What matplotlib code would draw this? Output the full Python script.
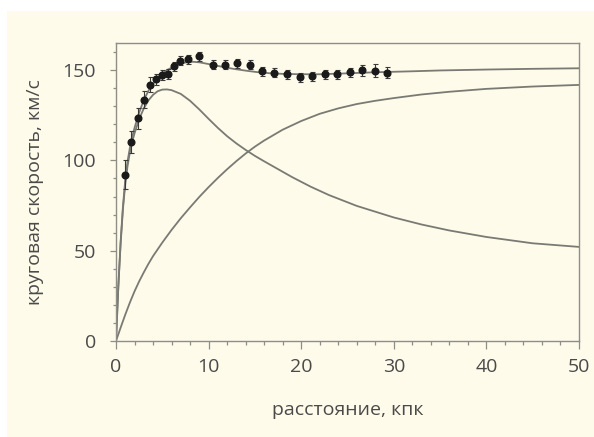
import matplotlib
matplotlib.use("Agg")
import matplotlib.pyplot as plt
from matplotlib.patches import Rectangle
from matplotlib.ticker import MultipleLocator

plt.rcParams['font.family'] = ['Open Sans', 'DejaVu Sans']

# observed rotation curve
obs_r = [0.92, 1.65, 2.36, 2.97, 3.65, 4.34, 4.98, 5.63, 6.28, 6.96, 7.74, 9.0,
         10.44, 11.74, 13.1, 14.44, 15.77, 17.06, 18.43, 19.84, 21.2, 22.54,
         23.87, 25.24, 26.6, 27.93, 29.3]
obs_v = [92.0, 110.2, 123.2, 133.7, 142.0, 145.0, 147.1, 147.9, 152.0, 155.1, 156.1, 157.7,
         152.9, 152.9, 153.8, 152.9, 149.4, 148.5, 147.6, 146.1, 146.7, 147.6,
         147.8, 148.7, 150.0, 149.6, 148.5]
obs_err = [8, 6, 6, 4.6, 4, 3, 2.8, 2.6, 2.5, 2.5, 2.5, 2.5,
           2.5, 2.5, 2.5, 2.5, 2.5, 2.5, 2.5, 2.5, 2.5, 2.5,
           2.5, 2.5, 3, 3.5, 3]

# model: total
tot_r = [0, 0.25, 0.5, 0.75, 1.0, 1.25, 1.5, 1.75, 2.0, 2.5, 3.0, 3.5, 4.0, 4.75, 5.5,
         6.5, 7.5, 8.3, 9.0, 10.15, 11.5, 12.67, 14.0, 15.2, 16.5, 18.0, 20.0,
         22.0, 25.0, 28.0, 31.75, 35.0, 40.0, 45.0, 50.0]
tot_v = [0, 30, 55, 74.5, 89, 99.5, 107, 113, 118, 126.5, 133.3, 138.5, 142.4, 146.8, 150,
         152.6, 154.2, 154.6, 154.3, 153.2, 151.8, 150.7, 149.7, 148.9, 148.3, 147.9, 147.7,
         147.7, 148.2, 148.8, 149.3, 149.8, 150.3, 150.7, 151]

# model: stellar disk
disk_r = [0, 0.25, 0.5, 0.75, 1.0, 1.25, 1.5, 1.75, 2.0, 2.5, 3.0, 3.5, 4.0, 4.5, 5.0,
          5.5, 6.0, 7.0, 8.0, 9.0, 10.0, 11.0, 12.0, 13.0, 14.0, 15.0, 16.0, 17.0,
          19.0, 21.0, 23.0, 26.0, 30.0, 33.0, 36.0, 40.0, 45.0, 50.0]
disk_v = [0, 30, 54, 73, 87, 97, 104.5, 110.3, 115, 122.8, 128.8, 133.2, 136.3, 138.3, 139.2,
          139.3, 138.9, 136.8, 133.0, 128.2, 123.0, 118.0, 113.4, 109.4, 105.8, 102.5, 99.5, 96.6,
          90.8, 85.5, 80.8, 74.8, 68.4, 64.5, 61.2, 57.6, 54.1, 52.1]

# model: dark halo
halo_r = [0, 0.5, 1, 1.5, 2, 2.5, 3, 3.5, 4, 5, 6, 7, 8, 9, 10, 11, 12, 13, 14, 15, 16,
          18, 20, 22, 24, 26, 28, 30, 33, 36, 40, 45, 50]
halo_v = [0, 7.4, 14.6, 21.3, 27.5, 33, 38, 42.7, 47, 54.5, 61.5, 68, 74, 79.8, 85.2,
          90.3, 95.1, 99.6, 103.8, 107.6, 111, 117, 121.8, 125.8, 128.8, 131.2, 133,
          134.5, 136.5, 138, 139.6, 140.9, 141.8]

xticks = [0, 10, 20, 30, 40, 50]
yticks = [0, 50, 100, 150]

cream = '#fefbea'
spine_c = '#8e8e86'
curve_c = '#7a7a74'
text_c = '#4a4a4a'

fig = plt.figure(figsize=(5.94, 4.37), dpi=100, facecolor='white')
fig.patches.append(Rectangle((7 / 594, 0), 1, 1 - 11 / 437, transform=fig.transFigure,
                             facecolor=cream, edgecolor='none', zorder=-10))

ax = fig.add_axes([116 / 594, 1 - 341 / 437, (579 - 116) / 594, (341 - 43) / 437])
ax.set_facecolor(cream)

for r, v in [(halo_r, halo_v), (disk_r, disk_v), (tot_r, tot_v)]:
    ax.plot(r, v, color=curve_c, lw=1.3, solid_capstyle='round',
            solid_joinstyle='round', zorder=2)

ax.errorbar(obs_r, obs_v, yerr=obs_err, fmt='o', color='#1a1a1a', ms=4.8,
            ecolor='#3a3a3a', elinewidth=0.8, capsize=1.8, capthick=0.8, zorder=3)

ax.set_xlim(0, 50)
ax.set_ylim(0, 165)
ax.set_xticks(xticks)
ax.set_yticks(yticks)
ax.xaxis.set_minor_locator(MultipleLocator(2))
ax.yaxis.set_minor_locator(MultipleLocator(10))
for s in ax.spines.values():
    s.set_color(spine_c)
    s.set_linewidth(1.0)
ax.tick_params(which='both', direction='out', color=spine_c, width=0.9,
               labelcolor=text_c, labelsize=14)
ax.tick_params(axis='x', which='major', length=5.5, pad=7)
ax.tick_params(axis='x', which='minor', length=3)
ax.tick_params(axis='y', which='major', length=4.5, pad=10)
ax.tick_params(axis='y', which='minor', length=2.5)

fig.text(347.5 / 594, 1 - 410 / 437, 'расстояние, кпк', ha='center', va='center',
         fontsize=14, color=text_c)
fig.text(35 / 594, 1 - 192 / 437, 'круговая скорость, км/с', ha='center', va='center',
         rotation=90, fontsize=14, color=text_c)

fig.savefig('out.png', dpi=100, facecolor='white')
